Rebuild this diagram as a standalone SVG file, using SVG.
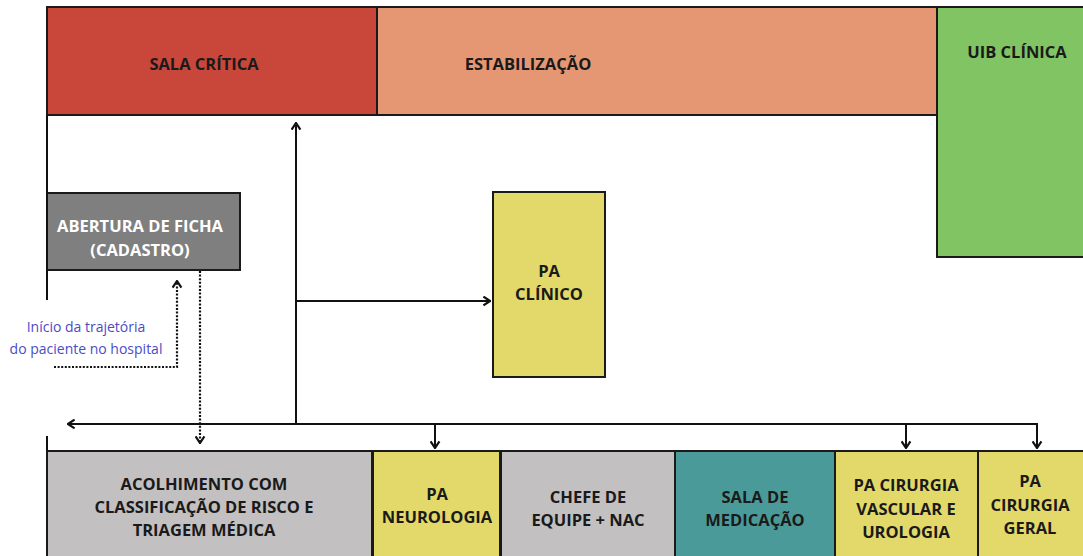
<svg xmlns="http://www.w3.org/2000/svg" width="1083" height="556" viewBox="0 0 1083 556">
<style>
.box{stroke:#1a1a1a;stroke-width:2}
.t{font-family:"Open Sans","Liberation Sans",sans-serif;font-weight:bold;font-size:16.5px;fill:#1a1a1a;text-anchor:middle}
.w{fill:#ffffff}
.note{font-family:"Open Sans","Liberation Sans",sans-serif;font-size:14px;fill:#4b4bc6;text-anchor:middle}
.ln{stroke:#111;stroke-width:2;fill:none}
.dot{stroke:#111;stroke-width:2.2;fill:none;stroke-dasharray:2 1.6}
</style>
<defs>
<marker id="ah" viewBox="0 0 10 10" refX="9" refY="5" markerWidth="11" markerHeight="11" markerUnits="userSpaceOnUse" orient="auto">
<path d="M3,1 L9,5 L3,9" fill="none" stroke="#111" stroke-width="2"/>
</marker>
</defs>
<rect width="1083" height="556" fill="#ffffff"/>
<g id="sala-critica"><rect class="box" x="47" y="7" width="330" height="108" fill="#c9473a"/><text class="t" x="204" y="70">SALA CRÍTICA</text></g>
<g id="estabilizacao"><rect class="box" x="377" y="7" width="560" height="108" fill="#e59773"/><text class="t" x="528" y="70">ESTABILIZAÇÃO</text></g>
<g id="uib-clinica"><rect class="box" x="937" y="7" width="150" height="250" fill="#80c463"/><text class="t" x="1017" y="58">UIB CLÍNICA</text></g>
<g id="abertura"><rect class="box" x="47" y="193" width="193" height="77" fill="#7f7f7f"/><text class="t w" x="140" y="232">ABERTURA DE FICHA</text><text class="t w" x="140" y="256">(CADASTRO)</text></g>
<g id="pa-clinico"><rect class="box" x="493" y="192" width="112" height="185" fill="#e3d96a"/><text class="t" x="549" y="277">PA</text><text class="t" x="549" y="300">CLÍNICO</text></g>
<g id="acolhimento"><rect class="box" x="47" y="451" width="325" height="110" fill="#c3c0c1"/><text class="t" x="204" y="490">ACOLHIMENTO COM</text><text class="t" x="204" y="513">CLASSIFICAÇÃO DE RISCO E</text><text class="t" x="204" y="536">TRIAGEM MÉDICA</text></g>
<g id="pa-neurologia"><rect class="box" x="373" y="451" width="127" height="110" fill="#e3d96a"/><text class="t" x="437" y="500">PA</text><text class="t" x="437" y="523">NEUROLOGIA</text></g>
<g id="chefe-equipe"><rect class="box" x="501" y="451" width="174" height="110" fill="#c3c0c1"/><text class="t" x="588" y="503">CHEFE DE</text><text class="t" x="588" y="526">EQUIPE + NAC</text></g>
<g id="sala-medicacao"><rect class="box" x="675" y="451" width="160" height="110" fill="#4a9a9a"/><text class="t" x="755" y="503">SALA DE</text><text class="t" x="755" y="526">MEDICAÇÃO</text></g>
<g id="pa-cirurgia-vascular"><rect class="box" x="835" y="451" width="143" height="110" fill="#e3d96a"/><text class="t" x="906" y="491">PA CIRURGIA</text><text class="t" x="906" y="515">VASCULAR E</text><text class="t" x="906" y="538">UROLOGIA</text></g>
<g id="pa-cirurgia-geral"><rect class="box" x="978" y="451" width="110" height="110" fill="#e3d96a"/><text class="t" x="1030" y="487">PA</text><text class="t" x="1030" y="511">CIRURGIA</text><text class="t" x="1030" y="534">GERAL</text></g>
<g id="nota"><text class="note" x="86" y="332">Início da trajetória</text><text class="note" x="86" y="354">do paciente no hospital</text></g>
<g id="connectors">
<path class="ln" d="M47,115 V300"/>
<path class="ln" d="M47,436 V451"/>
<path class="ln" d="M296,424 V123" marker-end="url(#ah)"/>
<path class="ln" d="M296,301 H490" marker-end="url(#ah)"/>
<path class="ln" d="M296,424 H68" marker-end="url(#ah)"/>
<path class="ln" d="M296,424 H1037 V448" marker-end="url(#ah)"/>
<path class="ln" d="M435,424 V448" marker-end="url(#ah)"/>
<path class="ln" d="M906,424 V448" marker-end="url(#ah)"/>
<path class="dot" d="M54,367 H177 V281" marker-end="url(#ah)"/>
<path class="dot" d="M200,271 V443" marker-end="url(#ah)"/>
</g>
</svg>
